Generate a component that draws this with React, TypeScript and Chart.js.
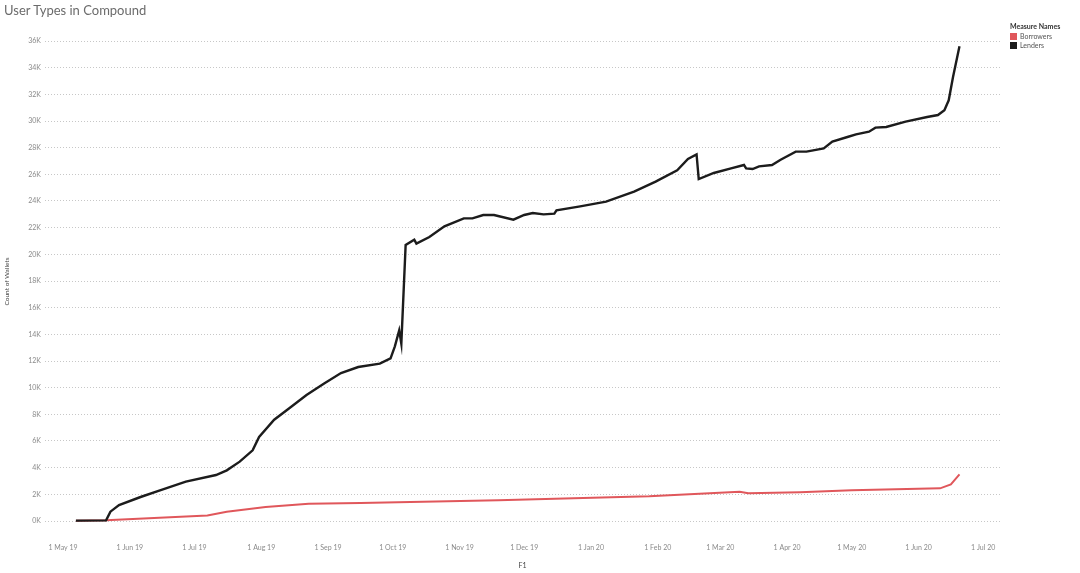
import React, { useEffect, useRef } from "react";
import { Chart, registerables } from "chart.js";

Chart.register(...registerables);

// ---- Data ----
const lenderDates = [
  "2019-05-07", "2019-05-21", "2019-05-23", "2019-05-27", "2019-06-06", "2019-06-15", "2019-06-27",
  "2019-07-11", "2019-07-16", "2019-07-22", "2019-07-28", "2019-07-31", "2019-08-07", "2019-08-14",
  "2019-08-22", "2019-08-30", "2019-09-07", "2019-09-15", "2019-09-25", "2019-09-30", "2019-10-02",
  "2019-10-04", "2019-10-05", "2019-10-07", "2019-10-11", "2019-10-12", "2019-10-18", "2019-10-25",
  "2019-11-03", "2019-11-07", "2019-11-12", "2019-11-17", "2019-11-26", "2019-12-01", "2019-12-05",
  "2019-12-10", "2019-12-15", "2019-12-16", "2019-12-27", "2020-01-08", "2020-01-21", "2020-01-31",
  "2020-02-10", "2020-02-15", "2020-02-19", "2020-02-20", "2020-02-27", "2020-03-06", "2020-03-12",
  "2020-03-13", "2020-03-16", "2020-03-19", "2020-03-25", "2020-03-29", "2020-04-05", "2020-04-10",
  "2020-04-18", "2020-04-22", "2020-04-29", "2020-05-03", "2020-05-09", "2020-05-12", "2020-05-17",
  "2020-05-26", "2020-06-05", "2020-06-10", "2020-06-13", "2020-06-15", "2020-06-17", "2020-06-20",
];
const lenderCounts = [
  30, 50, 700, 1200, 1800, 2300, 2950,
  3450, 3800, 4450, 5300, 6300, 7600, 8450,
  9450, 10300, 11100, 11550, 11800, 12200, 13100,
  14300, 13300, 20700, 21100, 20800, 21300, 22100,
  22700, 22700, 22950, 22950, 22600, 22950, 23100,
  23000, 23050, 23300, 23600, 23950, 24700, 25450,
  26300, 27150, 27500, 25650, 26100, 26450, 26700,
  26450, 26400, 26600, 26700, 27100, 27700, 27700,
  27950, 28450, 28800, 29000, 29200, 29500, 29550,
  29950, 30300, 30450, 30800, 31550, 33300, 35600,
];
const borrowerDates = [
  "2019-05-07", "2019-05-21", "2019-07-07", "2019-07-16", "2019-08-03", "2019-08-23", "2019-09-16",
  "2019-11-19", "2020-01-28", "2020-03-10", "2020-03-14", "2020-04-07", "2020-05-01", "2020-06-11",
  "2020-06-16", "2020-06-20",
];
const borrowerCounts = [
  20, 60, 420, 700, 1050, 1300, 1350,
  1550, 1850, 2200, 2080, 2150, 2300, 2450,
  2750, 3500,
];
const tickMonths = [
  "2019-05-01", "2019-06-01", "2019-07-01", "2019-08-01", "2019-09-01", "2019-10-01", "2019-11-01",
  "2019-12-01", "2020-01-01", "2020-02-01", "2020-03-01", "2020-04-01", "2020-05-01", "2020-06-01",
  "2020-07-01",
];
const tickLabels = [
  "1 May 19", "1 Jun 19", "1 Jul 19", "1 Aug 19", "1 Sep 19", "1 Oct 19", "1 Nov 19",
  "1 Dec 19", "1 Jan 20", "1 Feb 20", "1 Mar 20", "1 Apr 20", "1 May 20", "1 Jun 20", "1 Jul 20",
];
const yTicks = [0, 2000, 4000, 6000, 8000, 10000, 12000, 14000, 16000, 18000, 20000, 22000, 24000, 26000, 28000, 30000, 32000, 34000, 36000];

const BASE = Date.UTC(2019, 4, 1);
const toDay = (s: string) => {
  const [y, m, d] = s.split("-").map(Number);
  return (Date.UTC(y, m - 1, d) - BASE) / 86400000;
};

const FONT = "Lato, 'Open Sans', sans-serif";

export default function App() {
  const ref = useRef<HTMLCanvasElement>(null);
  useEffect(() => {
    document.body.style.margin = "0";
    const tickDays = tickMonths.map(toDay);
    const chart = new Chart(ref.current!, {
      type: "line",
      data: {
        datasets: [
          {
            label: "Lenders",
            data: lenderDates.map((d, i) => ({ x: toDay(d), y: lenderCounts[i] })),
            borderColor: "#1c1c1c",
            borderWidth: 2.4,
            pointRadius: 0,
            tension: 0,
          },
          {
            label: "Borrowers",
            data: borrowerDates.map((d, i) => ({ x: toDay(d), y: borrowerCounts[i] })),
            borderColor: "#e0575b",
            borderWidth: 2,
            pointRadius: 0,
            tension: 0,
          },
        ],
      },
      options: {
        animation: false,
        responsive: false,
        layout: { padding: { top: 28, left: 0, right: 80, bottom: 0 } },
        plugins: { legend: { display: false }, title: { display: false }, tooltip: { enabled: false } },
        scales: {
          x: {
            type: "linear",
            min: -8.35,
            max: 434.8,
            afterFit: (s: any) => { s.height = 38; },
            afterBuildTicks: (s: any) => { s.ticks = tickDays.map((v) => ({ value: v })); },
            grid: { display: false, drawTicks: false },
            border: { display: false },
            ticks: {
              padding: 9,
              maxRotation: 0,
              autoSkip: false,
              color: "#8a8a8a",
              font: { family: FONT, size: 7 },
              callback: (v: any) => {
                const i = tickDays.indexOf(Number(v));
                return i >= 0 ? tickLabels[i] : "";
              },
            },
            title: {
              display: true,
              text: "F1",
              color: "#444",
              font: { family: FONT, size: 7 },
              padding: { top: 0, bottom: 3 },
            },
          },
          y: {
            min: -1050,
            max: 36975,
            afterFit: (s: any) => { s.width = 45; },
            afterBuildTicks: (s: any) => { s.ticks = yTicks.map((v) => ({ value: v })); },
            grid: { color: "rgba(0,0,0,0.22)", drawTicks: false, lineWidth: 1 },
            border: { display: false, dash: [1, 2] },
            ticks: {
              padding: 4,
              color: "#8a8a8a",
              font: { family: FONT, size: 7 },
              callback: (v: any) => `${Math.round(Number(v) / 1000)}K`,
            },
            title: {
              display: true,
              text: "Count of Wallets",
              color: "#444",
              font: { family: FONT, size: 6.5 },
              padding: { top: 3, bottom: 0 },
            },
          },
        },
      } as any,
    });
    return () => chart.destroy();
  }, []);

  return (
    <div style={{ position: "relative", width: 1080, height: 573, background: "#fff", fontFamily: FONT }}>
      <canvas ref={ref} width={1080} height={573} style={{ position: "absolute", left: 0, top: 0 }} />
      <div style={{ position: "absolute", left: 4, top: 2, fontSize: 13, color: "#6b6b6b", fontWeight: 400 }}>
        User Types in Compound
      </div>
      <div style={{ position: "absolute", left: 1010, top: 22, fontSize: 7, color: "#333", lineHeight: "9px" }}>
        <div style={{ fontWeight: 700, marginBottom: 1 }}>Measure Names</div>
        <div style={{ display: "flex", alignItems: "center", gap: 3, color: "#555" }}>
          <span style={{ width: 7, height: 7, background: "#e0575b", display: "inline-block" }} />
          Borrowers
        </div>
        <div style={{ display: "flex", alignItems: "center", gap: 3, color: "#555" }}>
          <span style={{ width: 7, height: 7, background: "#1c1c1c", display: "inline-block" }} />
          Lenders
        </div>
      </div>
    </div>
  );
}
